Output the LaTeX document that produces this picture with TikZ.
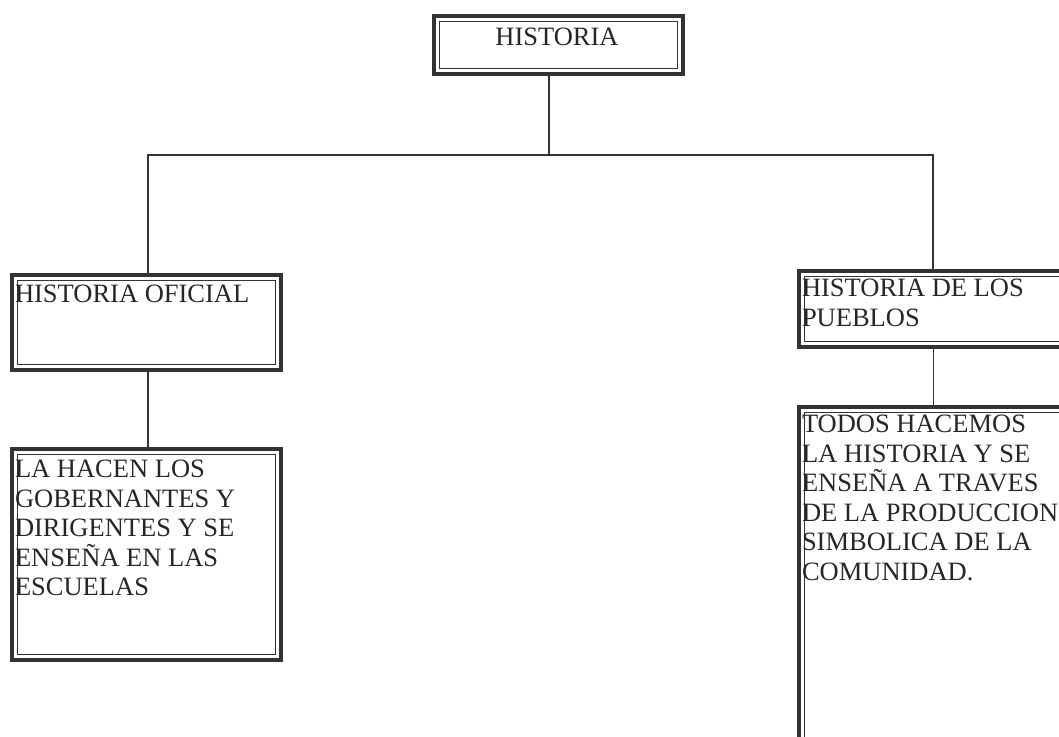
\documentclass[tikz,border=0pt]{standalone}
\usepackage{fontspec}
\setmainfont{Liberation Serif}
\usetikzlibrary{positioning}

\begin{document}
\begin{tikzpicture}[x=1pt,y=-1pt]
\tikzstyle{every node}+=[inner sep=0pt,outer sep=0pt]
\tikzstyle{frame}=[draw=black!80,line width=3.5pt,rectangle]
\tikzstyle{inframe}=[draw=black!80,line width=1.3pt]
\tikzstyle{txt}=[anchor=north west,align=left,text=black!85,font=\fontsize{26.5}{29.5}\selectfont]
\tikzstyle{link}=[draw=black!80,line width=1.2pt]
\useasboundingbox (0,0) rectangle (1059,736);
\node [frame,minimum width=249pt,minimum height=58pt] (top) at (558.5,45) {};
\node [frame,minimum width=269pt,minimum height=95pt] (oficial) at (146.5,322.5) {};
\node [frame,minimum width=269pt,minimum height=211pt] (hacen) at (146.5,554.5) {};
\node [frame,minimum width=269pt,minimum height=76pt] (pueblos) at (933.5,309) {};
\node [frame,minimum width=269pt,minimum height=338pt] (todos) at (933.5,576) {};
\foreach \n in {top,oficial,hacen,pueblos,todos}
  \draw [inframe] ([shift={(5.5,5.5)}]\n.north west) rectangle ([shift={(-5.5,-5.5)}]\n.south east);
\node [txt,anchor=north] (t-top) at (557,28) {HISTORIA};
\node [txt] (t-oficial) at (15,285) {HISTORIA OFICIAL};
\node [txt] (t-hacen) at (15,460) {LA HACEN LOS\\GOBERNANTES Y\\DIRIGENTES Y SE\\ENSEÑA EN LAS\\ESCUELAS};
\node [txt] (t-pueblos) at (802,279) {HISTORIA DE LOS\\PUEBLOS};
\node [txt] (t-todos) at (802,415) {TODOS HACEMOS\\LA HISTORIA Y SE\\ENSEÑA A TRAVES\\DE LA PRODUCCION\\SIMBOLICA DE LA\\COMUNIDAD.};
\coordinate (j) at (549,155);
\coordinate (jl) at (148,155);
\coordinate (jr) at (933,155);
\draw [link] (top.south -| j) -- (j);
\draw [link] (oficial.north -| jl) -- (jl) -- (jr) -- (pueblos.north -| jr);
\draw [link] (oficial.south -| jl) -- (hacen.north -| jl);
\draw [link] (pueblos.south) -- (todos.north);
\end{tikzpicture}
\end{document}
